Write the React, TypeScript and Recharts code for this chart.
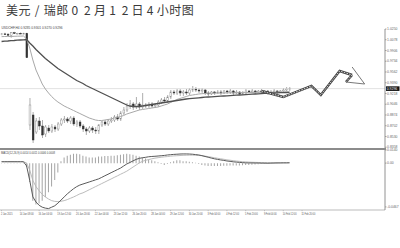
import React from 'react';
import { ComposedChart, Bar, Line, XAxis, YAxis, ReferenceLine } from 'recharts';

const TITLE = '美元/瑞郎02月12日4小时图';
const SYMBOL_INFO = 'USDCHF,H4  0.9285 0.9301 0.9270 0.9296';
const MACD_INFO = 'MACD(12,26,9) 0.0014 0.0011 0.0006 0.0008';

const TIME_LABELS = [
  '2 Jan 2015', '14 Jan 08:00', '16 Jan 04:00', '19 Jan 12:00', '20 Jan 20:00', '22 Jan 04:00',
  '23 Jan 12:00', '26 Jan 20:00', '28 Jan 04:00', '29 Jan 12:00', '30 Jan 20:00', '3 Feb 04:00',
  '4 Feb 12:00', '5 Feb 20:00', '9 Feb 04:00', '10 Feb 12:00', '11 Feb 20:00',
];
const LABEL_EVERY = 6;
const SLOT_COUNT = 123;

const openP = [
  1.0165, 1.0172, 1.0168, 1.0150, 1.0190, 1.0178, 1.0182, 1.0175, 1.0180,
  0.8714, 0.8874, 0.8602, 0.8778, 0.8698, 0.8570, 0.8666, 0.8618, 0.8682, 0.8650, 0.8730, 0.8794,
  0.8810, 0.8778, 0.8826, 0.8730, 0.8762, 0.8698, 0.8650, 0.8618, 0.8666, 0.8634, 0.8618, 0.8714,
  0.8762, 0.8730, 0.8778, 0.8794, 0.8842, 0.8810, 0.8906, 0.8954, 0.9018, 0.9050, 0.9002, 0.9050,
  0.9002, 0.9034, 0.9018, 0.9050, 0.9018, 0.9034, 0.9082, 0.9114, 0.9098, 0.9162, 0.9242, 0.9226,
  0.9258, 0.9226, 0.9242, 0.9226, 0.9274, 0.9290, 0.9274, 0.9258, 0.9274, 0.9226, 0.9210, 0.9242,
  0.9226, 0.9242, 0.9226, 0.9258, 0.9242, 0.9258, 0.9226, 0.9242, 0.9210, 0.9226, 0.9258, 0.9242,
  0.9258, 0.9242, 0.9258, 0.9242, 0.9258, 0.9226, 0.9242, 0.9258, 0.9242, 0.9258, 0.9274, 0.9290,
];
const highP = [
  1.0185, 1.0190, 1.0180, 1.0200, 1.0205, 1.0188, 1.0195, 1.0190, 1.0190,
  0.9146, 0.8922, 0.8826, 0.8842, 0.8794, 0.8714, 0.8714, 0.8730, 0.8714, 0.8762, 0.8826, 0.8858,
  0.8842, 0.8858, 0.8858, 0.8794, 0.8794, 0.8730, 0.8682, 0.8698, 0.8698, 0.8682, 0.8730, 0.8778,
  0.8794, 0.8810, 0.8842, 0.8874, 0.8890, 0.8938, 0.9002, 0.9066, 0.9114, 0.9082, 0.9162, 0.9082,
  0.9226, 0.9066, 0.9082, 0.9082, 0.9066, 0.9114, 0.9146, 0.9162, 0.9194, 0.9274, 0.9274, 0.9290,
  0.9290, 0.9274, 0.9290, 0.9306, 0.9338, 0.9322, 0.9306, 0.9306, 0.9290, 0.9258, 0.9258, 0.9258,
  0.9274, 0.9274, 0.9274, 0.9274, 0.9290, 0.9274, 0.9274, 0.9258, 0.9258, 0.9290, 0.9274, 0.9290,
  0.9274, 0.9274, 0.9290, 0.9274, 0.9274, 0.9274, 0.9290, 0.9274, 0.9274, 0.9306, 0.9322, 0.9322,
];
const lowP = [
  1.0150, 1.0160, 1.0140, 1.0110, 1.0170, 1.0165, 1.0170, 1.0168, 0.9790,
  0.8634, 0.8426, 0.8570, 0.8634, 0.8506, 0.8522, 0.8586, 0.8586, 0.8602, 0.8618, 0.8698, 0.8746,
  0.8746, 0.8730, 0.8698, 0.8682, 0.8666, 0.8602, 0.8554, 0.8586, 0.8586, 0.8570, 0.8570, 0.8682,
  0.8698, 0.8698, 0.8746, 0.8762, 0.8778, 0.8778, 0.8874, 0.8922, 0.8970, 0.8954, 0.8970, 0.8954,
  0.8970, 0.8986, 0.8986, 0.8986, 0.8986, 0.9002, 0.9050, 0.9066, 0.9066, 0.9130, 0.9194, 0.9194,
  0.9178, 0.9178, 0.9194, 0.9194, 0.9242, 0.9242, 0.9226, 0.9226, 0.9194, 0.9178, 0.9194, 0.9194,
  0.9210, 0.9194, 0.9210, 0.9210, 0.9210, 0.9194, 0.9210, 0.9194, 0.9194, 0.9210, 0.9226, 0.9226,
  0.9210, 0.9226, 0.9226, 0.9210, 0.9194, 0.9210, 0.9226, 0.9210, 0.9226, 0.9242, 0.9258, 0.9258,
];
const closeP = [
  1.0172, 1.0168, 1.0150, 1.0190, 1.0178, 1.0182, 1.0175, 1.0180, 0.9790,
  0.9034, 0.8474, 0.8778, 0.8698, 0.8554, 0.8682, 0.8618, 0.8682, 0.8650, 0.8730, 0.8794, 0.8810,
  0.8778, 0.8826, 0.8730, 0.8762, 0.8698, 0.8650, 0.8618, 0.8666, 0.8634, 0.8618, 0.8714, 0.8762,
  0.8730, 0.8778, 0.8794, 0.8842, 0.8810, 0.8906, 0.8954, 0.9018, 0.9050, 0.9002, 0.9050, 0.9002,
  0.9034, 0.9018, 0.9050, 0.9018, 0.9034, 0.9082, 0.9114, 0.9098, 0.9162, 0.9242, 0.9226, 0.9258,
  0.9226, 0.9242, 0.9226, 0.9274, 0.9290, 0.9274, 0.9258, 0.9274, 0.9226, 0.9210, 0.9242, 0.9226,
  0.9242, 0.9226, 0.9258, 0.9242, 0.9258, 0.9226, 0.9242, 0.9210, 0.9226, 0.9258, 0.9242, 0.9258,
  0.9242, 0.9258, 0.9242, 0.9258, 0.9226, 0.9242, 0.9258, 0.9242, 0.9258, 0.9274, 0.9290, 0.9296,
];
const maSlow = [
  1.0050, 1.0055, 1.0058, 1.0063, 1.0066, 1.0071, 1.0074, 1.0077, 1.0082,
  1.0026, 0.9978, 0.9922, 0.9874, 0.9826, 0.9778, 0.9738, 0.9698, 0.9658, 0.9618, 0.9586, 0.9554,
  0.9522, 0.9490, 0.9458, 0.9426, 0.9402, 0.9378, 0.9346, 0.9322, 0.9298, 0.9274, 0.9250, 0.9226,
  0.9202, 0.9178, 0.9154, 0.9130, 0.9106, 0.9082, 0.9058, 0.9034, 0.9018, 0.9010, 0.9010, 0.9010,
  0.9018, 0.9026, 0.9034, 0.9042, 0.9050, 0.9058, 0.9066, 0.9074, 0.9082, 0.9090, 0.9098, 0.9106,
  0.9114, 0.9122, 0.9130, 0.9135, 0.9140, 0.9144, 0.9149, 0.9154, 0.9159, 0.9162, 0.9165, 0.9168,
  0.9172, 0.9175, 0.9178, 0.9181, 0.9184, 0.9188, 0.9191, 0.9194, 0.9197, 0.9200, 0.9204, 0.9207,
  0.9210, 0.9213, 0.9216, 0.9220, 0.9223, 0.9226, 0.9228, 0.9229, 0.9231, 0.9232, 0.9234, 0.9236,
];
const maFast = [
  1.0128, 1.0130, 1.0131, 1.0130, 1.0133, 1.0135, 1.0136, 1.0138, 1.0090,
  0.9946, 0.9754, 0.9594, 0.9482, 0.9370, 0.9290, 0.9226, 0.9170, 0.9122, 0.9082, 0.9050, 0.9018,
  0.8994, 0.8970, 0.8946, 0.8922, 0.8898, 0.8874, 0.8850, 0.8826, 0.8810, 0.8794, 0.8786, 0.8786,
  0.8794, 0.8802, 0.8810, 0.8826, 0.8834, 0.8850, 0.8866, 0.8890, 0.8906, 0.8922, 0.8938, 0.8954,
  0.8962, 0.8970, 0.8978, 0.8986, 0.8994, 0.9002, 0.9018, 0.9034, 0.9050, 0.9074, 0.9098, 0.9122,
  0.9138, 0.9154, 0.9170, 0.9186, 0.9194, 0.9202, 0.9210, 0.9215, 0.9218, 0.9221, 0.9223, 0.9224,
  0.9226, 0.9226, 0.9228, 0.9228, 0.9229, 0.9229, 0.9231, 0.9231, 0.9232, 0.9232, 0.9234, 0.9234,
  0.9236, 0.9236, 0.9237, 0.9237, 0.9239, 0.9239, 0.9240, 0.9240, 0.9242, 0.9242, 0.9244, 0.9244,
];

const forecastSlots = [83, 90, 99, 102, 108, 112];
const forecastValues = [0.9258, 0.9162, 0.9338, 0.9194, 0.9578, 0.9514];
const forecastTail = [[112, 0.9514], [110, 0.9402]];
const arrowLines = [
  [[116, 0.9370], [112, 0.9642]],
  [[116, 0.9370], [110, 0.9402]],
];

const macdHist = [
  0.0002, 0.0002, 0.0002, 0.0002, 0.0002, 0.0002, 0.0002, 0.0002,
  -0.004, -0.020, -0.040, -0.044, -0.043, -0.040, -0.036, -0.031, -0.025, -0.018, -0.010,
  0.002, 0.006, 0.008, 0.009, 0.010, 0.010, 0.0095, 0.008, 0.007, 0.006, 0.006, 0.006,
  0.007, 0.007, 0.0075, 0.0075, 0.008, 0.008, 0.0085, 0.009, 0.0095, 0.010, 0.0095, 0.009,
  0.008, 0.007, 0.006, 0.005, 0.004, 0.003, 0.002, 0.001, -0.001, -0.002,
  -0.001, 0.001, 0.002, 0.003, 0.003, 0.002, 0.002, 0.0015, 0.001, 0.0005, -0.001, -0.002,
  -0.0025, -0.003, -0.003, -0.003, -0.003, -0.003, -0.0028, -0.0028, -0.0026, -0.0026, -0.0025, -0.0025,
  -0.0022, -0.002, -0.002, -0.0018, -0.0015, -0.0012, -0.001, -0.0008, -0.0006, -0.0005, -0.0004, -0.0003,
  -0.0002, -0.0002, -0.0001, -0.0001,
];
const macdMain = [
  0.0015, 0.0015, 0.0015, 0.0015, 0.0015, 0.0015, 0.0015, 0.0015,
  -0.003, -0.0185, -0.036, -0.0415, -0.045, -0.047, -0.048, -0.0485, -0.047, -0.0455, -0.0427,
  -0.0394, -0.0361, -0.0328, -0.0300, -0.0273, -0.0251, -0.0234, -0.0223, -0.0212, -0.0201, -0.0190, -0.0179,
  -0.0168, -0.0152, -0.0135, -0.0119, -0.0102, -0.0086, -0.0069, -0.0053, -0.0031, -0.0009, 0.0007, 0.0024,
  0.0040, 0.0051, 0.0057, 0.0062, 0.0068, 0.0071, 0.0073, 0.0076, 0.0079, 0.0082, 0.0087, 0.0090, 0.0093,
  0.0095, 0.0097, 0.0098, 0.0098, 0.0097, 0.0095, 0.0091, 0.0087, 0.0080, 0.0071, 0.0063, 0.0054,
  0.0046, 0.0040, 0.0034, 0.0029, 0.0023, 0.0019, 0.0014, 0.0011, 0.0008, 0.0005, 0.0003, 0.0002,
  0.0002, 0.0001, 0.0001, 0.0000, 0.0000, -0.0001, 0.0000, 0.0001, 0.0002, 0.0002, 0.0003, 0.0003, 0.0004,
];
const macdSignal = [
  0.0015, 0.0015, 0.0015, 0.0015, 0.0015, 0.0015, 0.0015, 0.0015,
  0.0002, -0.0075, -0.0185, -0.0251, -0.0295, -0.0334, -0.0361, -0.0383, -0.0400, -0.0408, -0.0411,
  -0.0407, -0.0400, -0.0389, -0.0375, -0.0361, -0.0345, -0.0328, -0.0317, -0.0301, -0.0284, -0.0268, -0.0251,
  -0.0235, -0.0218, -0.0202, -0.0185, -0.0169, -0.0152, -0.0136, -0.0119, -0.0103, -0.0086, -0.0064, -0.0042,
  -0.0020, 0.0002, 0.0019, 0.0030, 0.0038, 0.0046, 0.0053, 0.0058, 0.0063, 0.0067, 0.0070, 0.0074, 0.0077,
  0.0079, 0.0081, 0.0083, 0.0084, 0.0085, 0.0085, 0.0084, 0.0082, 0.0079, 0.0075, 0.0069, 0.0064,
  0.0057, 0.0052, 0.0046, 0.0041, 0.0035, 0.0031, 0.0026, 0.0022, 0.0019, 0.0015, 0.0013, 0.0011,
  0.0009, 0.0008, 0.0007, 0.0006, 0.0005, 0.0004, 0.0004, 0.0003, 0.0003, 0.0003, 0.0003, 0.0003, 0.0003,
];

const priceTicks = [1.0250, 1.0078, 0.9906, 0.9734, 0.9562, 0.9390, 0.9218, 0.9046, 0.8874, 0.8702, 0.8530, 0.8358];
const priceDomain = [0.8346, 1.0250];
const macdTicks = [0.0140, 0, -0.0467];
const macdDomain = [-0.0500, 0.0140];

const lastPrice = closeP[closeP.length - 1];

const rows = Array.from({ length: SLOT_COUNT }, (_, i) => {
  const row: any = { i };
  if (i < closeP.length) {
    row.o = openP[i];
    row.h = highP[i];
    row.l = lowP[i];
    row.c = closeP[i];
    row.range = [lowP[i], highP[i]];
    row.maS = maSlow[i];
    row.maF = maFast[i];
    row.hist = macdHist[i];
    row.macd = macdMain[i];
    row.sig = macdSignal[i];
  }
  const fi = forecastSlots.indexOf(i);
  if (fi >= 0) row.fc = forecastValues[fi];
  return row;
});

const FONT = 'Liberation Sans, Arial, sans-serif';

const Candle = (props: any) => {
  const { x, y, width, height, payload } = props;
  if (!payload || payload.o == null) return null;
  const top = Math.min(y, y + height);
  const hgt = Math.abs(height);
  const cx = x + width / 2;
  const k = payload.h === payload.l ? 0 : hgt / (payload.h - payload.l);
  const yO = top + (payload.h - payload.o) * k;
  const yC = top + (payload.h - payload.c) * k;
  const bull = payload.c >= payload.o;
  const bTop = Math.min(yO, yC);
  const bH = Math.max(Math.abs(yC - yO), 0.8);
  return (
    <g>
      <line x1={cx} x2={cx} y1={top} y2={top + hgt} stroke="#777" strokeWidth={0.6} />
      <rect x={cx - 0.9} y={bTop} width={1.8} height={bH} fill={bull ? '#fff' : '#333'} stroke={bull ? '#888' : '#333'} strokeWidth={0.45} />
    </g>
  );
};

const PriceTag = (props: any) => {
  const vb = props.viewBox || {};
  const x = (vb.x || 0) + (vb.width || 0) + 1;
  const y = vb.y || 0;
  return (
    <g>
      <rect x={x} y={y - 2.3} width={13.5} height={4.6} fill="#111" />
      <text x={x + 0.8} y={y + 1.2} fontSize={3.4} fill="#fff" fontFamily={FONT}>{props.text}</text>
    </g>
  );
};

const TimeTick = (props: any) => {
  const { x, y, payload } = props;
  const idx = Number(payload.value);
  if (idx % LABEL_EVERY !== 0) return null;
  const label = TIME_LABELS[idx / LABEL_EVERY];
  if (!label) return null;
  return (
    <g>
      <line x1={x} x2={x} y1={y} y2={y + 1.2} stroke="#999" strokeWidth={0.5} />
      <text x={x - 0.6} y={y + 5.2} fontSize={3} fill="#555" fontFamily={FONT} textAnchor="start" textLength={label.length * 1.15} lengthAdjust="spacingAndGlyphs">{label}</text>
    </g>
  );
};

const yTickStyle = { fontSize: 3.4, fill: '#666', fontFamily: FONT };

export default function App() {
  return (
    <div style={{ position: 'absolute', left: 0, top: 0, width: 400, height: 248, background: '#fff', overflow: 'hidden', fontFamily: FONT }}>
      <div style={{ position: 'absolute', left: 5.7, top: 4, height: 12, display: 'flex', fontFamily: '"Noto Sans CJK SC", sans-serif', fontSize: 12, lineHeight: '12px', color: '#3a3a3a' }}>
        {Array.from(TITLE).map((ch, k) => (
          <span key={k} style={{ display: 'inline-block', width: 12.57, textAlign: 'center' }}>{ch}</span>
        ))}
      </div>

      <div style={{ position: 'absolute', left: 0, top: 25 }}>
        <ComposedChart width={400} height={123} data={rows} margin={{ top: 4, right: 0, bottom: 0, left: 0 }}>
          <XAxis dataKey="i" type="category" hide />
          <YAxis
            orientation="right"
            width={15}
            type="number"
            domain={priceDomain}
            ticks={priceTicks}
            interval={0}
            allowDataOverflow
            tick={yTickStyle}
            tickSize={1.5}
            tickMargin={0.6}
            tickFormatter={(v: number) => v.toFixed(4)}
            axisLine={{ stroke: '#777', strokeWidth: 0.8 }}
            tickLine={{ stroke: '#777', strokeWidth: 0.6 }}
          />
          <ReferenceLine y={lastPrice} stroke="#d4d4d4" strokeWidth={0.7} label={<PriceTag text={lastPrice.toFixed(4)} />} />
          <Bar dataKey="range" isAnimationActive={false} shape={(p: any) => <Candle {...p} />} />
          <Line dataKey="maF" stroke="#a8a8a8" strokeWidth={1} dot={false} isAnimationActive={false} />
          <Line dataKey="maS" stroke="#505050" strokeWidth={1.3} dot={false} isAnimationActive={false} />
          <Line dataKey="fc" stroke="#444" strokeWidth={2.4} dot={false} connectNulls isAnimationActive={false} />
          <Line dataKey="fc" stroke="#fff" strokeWidth={0.8} strokeDasharray="1.6 1.2" dot={false} connectNulls isAnimationActive={false} />
          <ReferenceLine segment={[{ x: forecastTail[0][0], y: forecastTail[0][1] }, { x: forecastTail[1][0], y: forecastTail[1][1] }]} stroke="#444" strokeWidth={2.4} />
          <ReferenceLine segment={[{ x: forecastTail[0][0], y: forecastTail[0][1] }, { x: forecastTail[1][0], y: forecastTail[1][1] }]} stroke="#fff" strokeWidth={0.8} strokeDasharray="1.6 1.2" />
          {arrowLines.map((seg, k) => (
            <ReferenceLine key={k} segment={[{ x: seg[0][0], y: seg[0][1] }, { x: seg[1][0], y: seg[1][1] }]} stroke="#555" strokeWidth={0.8} />
          ))}
        </ComposedChart>
      </div>

      <div style={{ position: 'absolute', left: 0, top: 146 }}>
        <ComposedChart width={400} height={76} data={rows} margin={{ top: 4, right: 0, bottom: 0, left: 0 }}>
          <XAxis
            dataKey="i"
            type="category"
            height={12}
            interval={0}
            tick={<TimeTick />}
            tickSize={0}
            tickMargin={0}
            axisLine={{ stroke: '#aaa', strokeWidth: 0.8 }}
            tickLine={false}
          />
          <YAxis
            orientation="right"
            width={15}
            type="number"
            domain={macdDomain}
            ticks={macdTicks}
            interval={0}
            allowDataOverflow
            tick={yTickStyle}
            tickSize={1.5}
            tickMargin={0.6}
            tickFormatter={(v: number) => (v === 0 ? '0.00' : v.toFixed(4))}
            axisLine={{ stroke: '#777', strokeWidth: 0.8 }}
            tickLine={{ stroke: '#777', strokeWidth: 0.6 }}
          />
          <Bar dataKey="hist" barSize={1} fill="#a4a4a4" isAnimationActive={false} />
          <Line dataKey="sig" stroke="#b4b4b4" strokeWidth={0.9} dot={false} isAnimationActive={false} />
          <Line dataKey="macd" stroke="#5a5a5a" strokeWidth={1} dot={false} isAnimationActive={false} />
        </ComposedChart>
      </div>

      <svg width={400} height={248} style={{ position: 'absolute', left: 0, top: 0, pointerEvents: 'none' }}>
        <text x={1.5} y={29} fontSize={3} fill="#444" fontFamily={FONT} textLength={61} lengthAdjust="spacingAndGlyphs">{SYMBOL_INFO}</text>
        <rect x={0} y={148} width={386} height={2} fill="#8c8c8c" />
        <text x={1} y={153.6} fontSize={3} fill="#444" fontFamily={FONT} textLength={54} lengthAdjust="spacingAndGlyphs">{MACD_INFO}</text>
      </svg>
    </div>
  );
}
